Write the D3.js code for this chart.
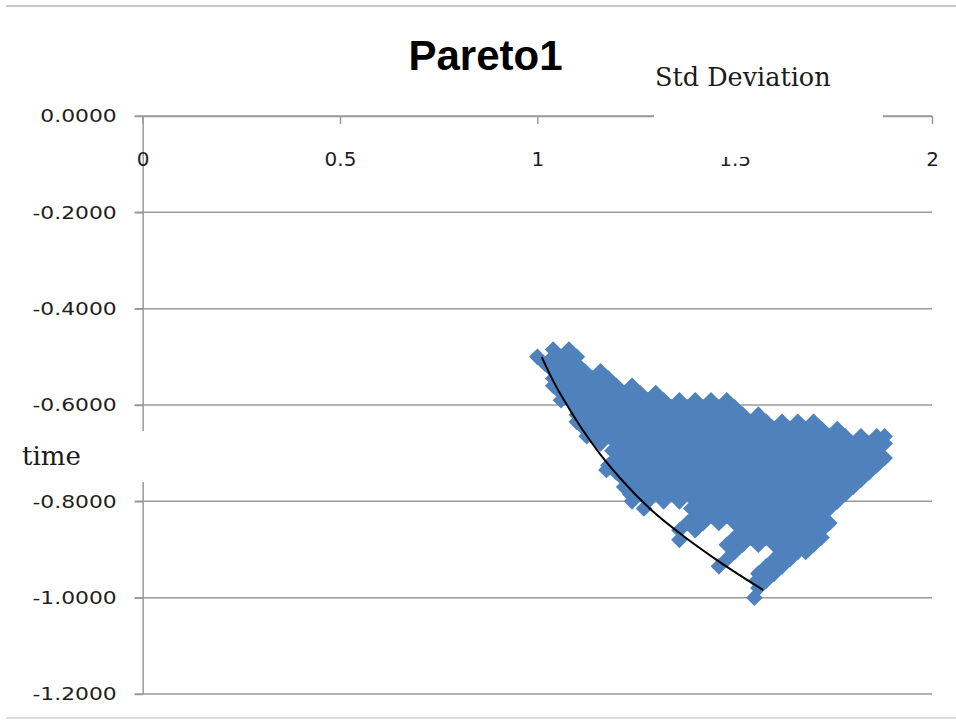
<!DOCTYPE html>
<html>
<head>
<meta charset="utf-8">
<script src="https://cdn.jsdelivr.net/npm/d3@7"></script>
<style>
  html, body { margin: 0; padding: 0; background: #fff; }
  svg { display: block; }
</style>
</head>
<body>
<svg id="chart" width="956" height="724"></svg>
<script>
// ---- chart text ----
const chartTitle = "Pareto1";
const xAxisTitle = "Std Deviation";
const yAxisTitle = "time";

// ---- axis ticks ----
const xTicks = [0, 0.5, 1, 1.5, 2];
const xTickLabels = ["0", "0.5", "1", "1.5", "2"];
const yTicks = [0, -0.2, -0.4, -0.6, -0.8, -1.0, -1.2];
const yTickLabels = ["0.0000", "-0.2000", "-0.4000", "-0.6000", "-0.8000", "-1.0000", "-1.2000"];

// ---- trial portfolios: each time value with the std deviations found at it ----
const trialTime = [
  -0.485, -0.500, -0.515, -0.530, -0.545, -0.560, -0.575, -0.590, -0.605, -0.620,
  -0.635, -0.650, -0.665, -0.680, -0.695, -0.710, -0.725, -0.735, -0.740, -0.755,
  -0.770, -0.785, -0.800, -0.815, -0.830, -0.845, -0.860, -0.875, -0.880, -0.890,
  -0.905, -0.920, -0.935, -0.950, -0.965, -0.980, -1.000
];
const trialStd = [
  [1.04, 1.08],
  [1.00, 1.04, 1.06, 1.08, 1.10],
  [1.02, 1.06, 1.10],
  [1.04, 1.08, 1.12, 1.16],
  [1.04, 1.06, 1.10, 1.14, 1.18],
  [1.04, 1.08, 1.12, 1.16, 1.20, 1.24],
  [1.06, 1.10, 1.14, 1.18, 1.22, 1.26, 1.30],
  [1.06, 1.08, 1.12, 1.16, 1.20, 1.24, 1.28, 1.32, 1.36, 1.40, 1.44, 1.48],
  [1.10, 1.14, 1.18, 1.22, 1.26, 1.30, 1.34, 1.38, 1.42, 1.46, 1.50],
  [1.10, 1.12, 1.16, 1.20, 1.24, 1.28, 1.32, 1.36, 1.40, 1.44, 1.48, 1.52, 1.56],
  [1.10, 1.14, 1.18, 1.22, 1.26, 1.30, 1.34, 1.38, 1.42, 1.46, 1.50, 1.54, 1.58, 1.62, 1.66, 1.70],
  [1.12, 1.16, 1.20, 1.24, 1.28, 1.32, 1.36, 1.40, 1.44, 1.48, 1.52, 1.56, 1.60, 1.64, 1.68, 1.72, 1.76],
  [1.125, 1.14, 1.18, 1.22, 1.26, 1.30, 1.34, 1.38, 1.42, 1.46, 1.50, 1.54, 1.58, 1.62, 1.66, 1.70, 1.74, 1.78, 1.82, 1.86, 1.88],
  [1.16, 1.20, 1.24, 1.28, 1.32, 1.36, 1.40, 1.44, 1.48, 1.52, 1.56, 1.60, 1.64, 1.68, 1.72, 1.76, 1.80, 1.84, 1.88],
  [1.19, 1.22, 1.26, 1.30, 1.34, 1.38, 1.42, 1.46, 1.50, 1.54, 1.58, 1.62, 1.66, 1.70, 1.74, 1.78, 1.82, 1.86],
  [1.20, 1.24, 1.28, 1.32, 1.36, 1.40, 1.44, 1.48, 1.52, 1.56, 1.60, 1.64, 1.68, 1.72, 1.76, 1.80, 1.84, 1.88],
  [1.18, 1.22, 1.26, 1.30, 1.34, 1.38, 1.42, 1.46, 1.50, 1.54, 1.58, 1.62, 1.66, 1.70, 1.74, 1.78, 1.82, 1.86],
  [1.175],
  [1.20, 1.24, 1.28, 1.32, 1.36, 1.40, 1.44, 1.48, 1.52, 1.56, 1.60, 1.64, 1.68, 1.72, 1.76, 1.80, 1.84],
  [1.22, 1.26, 1.30, 1.34, 1.38, 1.42, 1.46, 1.50, 1.54, 1.58, 1.62, 1.66, 1.70, 1.74, 1.78, 1.82],
  [1.22, 1.24, 1.28, 1.32, 1.36, 1.40, 1.44, 1.48, 1.52, 1.56, 1.60, 1.64, 1.68, 1.72, 1.76, 1.80],
  [1.235, 1.26, 1.30, 1.34, 1.38, 1.42, 1.46, 1.50, 1.54, 1.58, 1.62, 1.66, 1.70, 1.74, 1.78],
  [1.24, 1.28, 1.32, 1.36, 1.40, 1.44, 1.48, 1.52, 1.56, 1.60, 1.64, 1.68, 1.72, 1.76],
  [1.27, 1.39, 1.42, 1.46, 1.50, 1.54, 1.58, 1.62, 1.66, 1.70, 1.74],
  [1.40, 1.44, 1.48, 1.52, 1.56, 1.60, 1.64, 1.68, 1.72],
  [1.38, 1.42, 1.46, 1.50, 1.54, 1.58, 1.62, 1.66, 1.70, 1.74],
  [1.36, 1.40, 1.52, 1.56, 1.60, 1.64, 1.68, 1.72],
  [1.50, 1.54, 1.58, 1.62, 1.66, 1.70, 1.72],
  [1.36],
  [1.48, 1.52, 1.56, 1.60, 1.64, 1.68, 1.70],
  [1.50, 1.62, 1.66, 1.68],
  [1.48, 1.60, 1.64],
  [1.46, 1.58, 1.62],
  [1.56, 1.60],
  [1.555, 1.58],
  [1.56],
  [1.55]
];

// ---- efficient frontier ----
const frontierStd  = [1.011, 1.040, 1.075, 1.115, 1.160, 1.210, 1.286, 1.370, 1.455, 1.572];
const frontierTime = [-0.500, -0.550, -0.600, -0.652, -0.703, -0.752, -0.816, -0.872, -0.922, -0.984];

// ---- drawing ----
const svg = d3.select("#chart");
const gridColor = "#9a9a9a";
const markerColor = "#4F81BD";

const x = d3.scaleLinear().domain([0, 2]).range([142.7, 932]);
const y = d3.scaleLinear().domain([0, -1.2]).range([116, 694]);

// outer frame lines
svg.append("line").attr("x1", 6).attr("x2", 956).attr("y1", 6).attr("y2", 6)
  .attr("stroke", "#b4b4b4").attr("stroke-width", 1.5);
svg.append("line").attr("x1", 6).attr("x2", 956).attr("y1", 718).attr("y2", 718)
  .attr("stroke", "#d0d0d0").attr("stroke-width", 1.5);

// horizontal gridlines
svg.append("g").selectAll("line").data(yTicks).join("line")
  .attr("x1", x(0) - 8).attr("x2", x(2))
  .attr("y1", d => y(d)).attr("y2", d => y(d))
  .attr("stroke", gridColor).attr("stroke-width", 1.5);

// y axis
const gy = svg.append("g")
  .attr("transform", `translate(${x(0)},0)`)
  .call(d3.axisLeft(y).tickValues(yTicks)
    .tickFormat((d, i) => yTickLabels[i])
    .tickSize(8).tickSizeOuter(0).tickPadding(18));
gy.select(".domain").attr("stroke", gridColor).attr("stroke-width", 1.5);
gy.selectAll(".tick line").attr("stroke", gridColor).attr("stroke-width", 1.5);
gy.selectAll(".tick text")
  .attr("font-family", "DejaVu Sans").attr("font-size", 18.5).attr("fill", "#1e1e1e")
  .each(function () {
    const w = this.getComputedTextLength();
    d3.select(this).attr("textLength", w * 1.18).attr("lengthAdjust", "spacingAndGlyphs");
  });

// x axis along time = 0
const gx = svg.append("g")
  .attr("transform", `translate(0,${y(0)})`)
  .call(d3.axisBottom(x).tickValues(xTicks)
    .tickFormat((d, i) => xTickLabels[i])
    .tickSize(8).tickSizeOuter(0).tickPadding(28));
gx.select(".domain").attr("stroke", gridColor).attr("stroke-width", 1.5);
gx.selectAll(".tick line").attr("stroke", gridColor).attr("stroke-width", 1.5);
gx.selectAll(".tick text")
  .attr("font-family", "DejaVu Sans").attr("font-size", 20).attr("fill", "#1e1e1e");

// axis titles on white label boxes
svg.append("rect").attr("x", 654).attr("y", 55).attr("width", 229).attr("height", 102).attr("fill", "#fff");
svg.append("text").attr("x", 655).attr("y", 86)
  .attr("font-family", "DejaVu Serif").attr("font-size", 25.5).attr("fill", "#1a1a1a")
  .text(xAxisTitle);

svg.append("rect").attr("x", 10).attr("y", 431).attr("width", 136).attr("height", 51).attr("fill", "#fff");
svg.append("text").attr("x", 22).attr("y", 465)
  .attr("font-family", "DejaVu Serif").attr("font-size", 26).attr("fill", "#1a1a1a")
  .text(yAxisTitle);

// scatter of trial portfolios
const trials = trialTime.flatMap((t, i) => trialStd[i].map(s => ({ s, t })));
const r = 8.3;
svg.append("g").selectAll("path").data(trials).join("path")
  .attr("d", `M0,${-r}L${r},0L0,${r}L${-r},0Z`)
  .attr("transform", d => `translate(${x(d.s)},${y(d.t)})`)
  .attr("fill", markerColor);

// frontier curve
const frontier = frontierStd.map((s, i) => ({ s, t: frontierTime[i] }));
svg.append("path").datum(frontier)
  .attr("fill", "none").attr("stroke", "#000").attr("stroke-width", 2)
  .attr("d", d3.line().x(d => x(d.s)).y(d => y(d.t)).curve(d3.curveMonotoneX));

// chart title
svg.append("text").attr("x", 485.5).attr("y", 70).attr("text-anchor", "middle")
  .attr("font-family", "Liberation Sans").attr("font-weight", "bold").attr("font-size", 42)
  .attr("fill", "#000").text(chartTitle);
</script>
</body>
</html>
